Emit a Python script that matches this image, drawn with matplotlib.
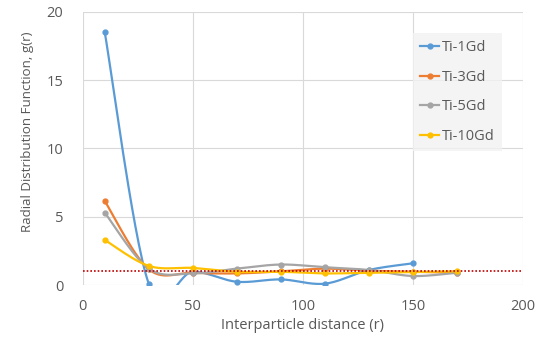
import numpy as np
import matplotlib
matplotlib.use("Agg")
import matplotlib.pyplot as plt
from matplotlib.lines import Line2D

plt.rcParams['font.family'] = ['Open Sans', 'DejaVu Sans']

# data
r = [10, 30, 50, 70, 90, 110, 130, 150, 170]
names = ["Ti-1Gd", "Ti-3Gd", "Ti-5Gd", "Ti-10Gd"]
g_1gd = [18.5, 0.1, 0.97, 0.24, 0.41, 0.1, 1.1, 1.59]
g_3gd = [6.15, 1.15, 0.9, 0.85, 1.0, 1.2, 1.05, 0.97, 0.9]
g_5gd = [5.3, 1.2, 0.85, 1.2, 1.5, 1.3, 1.1, 0.66, 0.9]
g_10gd = [3.3, 1.4, 1.25, 0.97, 0.97, 0.85, 0.9, 0.95, 1.0]
colors = ["#5B9BD5", "#ED7D31", "#A5A5A5", "#FFC000"]
ref_level = 1.0


def smooth(x, y, n=30):
    # excel style bezier smoothing
    x = np.asarray(x, float); y = np.asarray(y, float)
    xs, ys = [], []
    for i in range(len(x) - 1):
        i0 = max(i - 1, 0); i3 = min(i + 2, len(x) - 1)
        p0 = np.array([x[i], y[i]]); p3 = np.array([x[i + 1], y[i + 1]])
        p1 = p0 + (np.array([x[i + 1], y[i + 1]]) - np.array([x[i0], y[i0]])) / 6
        p2 = p3 - (np.array([x[i3], y[i3]]) - np.array([x[i], y[i]])) / 6
        t = np.linspace(0, 1, n)[:, None]
        pts = (1 - t) ** 3 * p0 + 3 * (1 - t) ** 2 * t * p1 + 3 * (1 - t) * t ** 2 * p2 + t ** 3 * p3
        xs.extend(pts[:, 0]); ys.extend(pts[:, 1])
    return xs, ys


fig = plt.figure(figsize=(5.42, 3.43), dpi=100)
ax = fig.add_axes([0.1526, 0.169, 0.8124, 0.797])

series = [g_1gd, g_3gd, g_5gd, g_10gd]
handles = []
for name, g, c in zip(names, series, colors):
    xx = r[:len(g)]
    sx, sy = smooth(xx, g)
    ax.plot(sx, sy, color=c, lw=1.6, zorder=3)
    ax.plot(xx, g, 'o', color=c, ms=3.5, zorder=4)
    handles.append(Line2D([], [], color=c, lw=1.6, marker='o', ms=3.5))

ax.axhline(ref_level, color="#C00000", ls=(0, (1, 1.2)), lw=1.2, zorder=5)

ax.set_xlim(0, 200)
ax.set_ylim(0, 20)
ax.set_xticks([0, 50, 100, 150, 200])
ax.set_yticks([0, 5, 10, 15, 20])
ax.grid(True, color="#D9D9D9", lw=0.8)
ax.set_axisbelow(True)
for s in ax.spines.values():
    s.set_visible(False)
ax.tick_params(length=0, colors="#595959", labelsize=10.5)
ax.tick_params(axis='x', pad=10)
ax.tick_params(axis='y', pad=14)
ax.set_xlabel("Interparticle distance (r)", color="#595959", fontsize=10.5, labelpad=3)
ax.set_ylabel("Radial Distribution Function, g(r)", color="#595959", fontsize=9.6)
ax.yaxis.set_label_coords(-0.11, 0.56)

leg = ax.legend(handles, names, loc="upper right", bbox_to_anchor=(0.953, 0.922),
                frameon=True, fontsize=10.5, handlelength=1.3, labelspacing=1.0,
                borderpad=0.5, handletextpad=0.2, fancybox=False, borderaxespad=0)
leg.get_frame().set_facecolor("#F2F2F2")
leg.get_frame().set_edgecolor("none")
for t in leg.get_texts():
    t.set_color("#595959")

fig.savefig("out.png", dpi=100)
